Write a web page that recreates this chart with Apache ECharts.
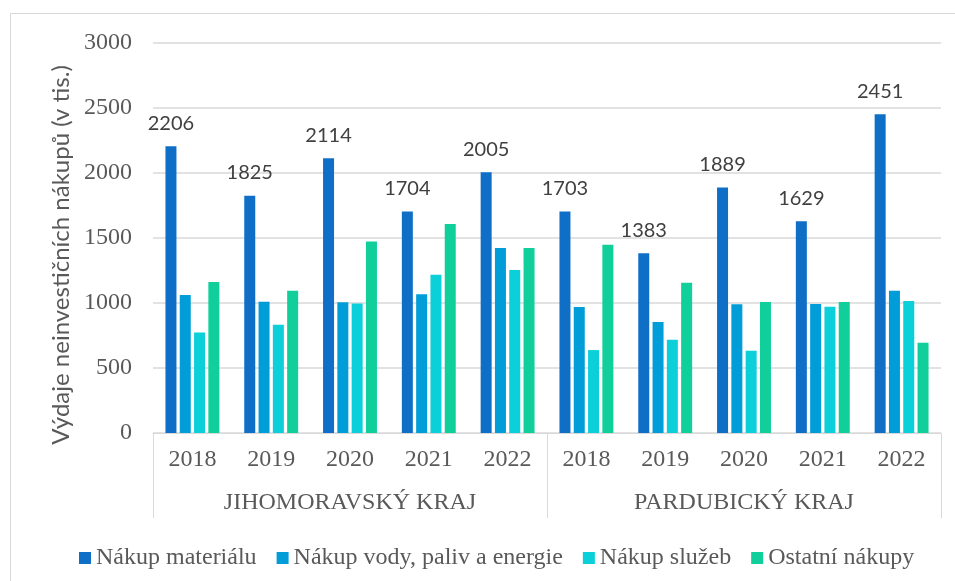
<!DOCTYPE html>
<html>
<head>
<meta charset="utf-8">
<script src="https://cdn.jsdelivr.net/npm/echarts@6/dist/echarts.min.js"></script>
<style>
  html, body { margin: 0; padding: 0; background: #fff; }
  #chart { width: 955px; height: 581px; }
</style>
</head>
<body>
<div id="chart"></div>
<script>
// data
const years = ['2018', '2019', '2020', '2021', '2022', '2018', '2019', '2020', '2021', '2022']
const regions = ['JIHOMORAVSKÝ KRAJ', 'PARDUBICKÝ KRAJ']
const seriesNames = ['Nákup materiálu', 'Nákup vody, paliv a energie', 'Nákup služeb', 'Ostatní nákupy']
const material = [2206, 1825, 2114, 1704, 2005, 1703, 1383, 1889, 1629, 2451]
const water = [1062, 1010, 1005, 1067, 1423, 969, 854, 990, 992, 1095]
const services = [774, 833, 997, 1218, 1254, 638, 718, 633, 972, 1015]
const other = [1162, 1095, 1474, 1608, 1423, 1449, 1156, 1008, 1008, 695]
const colors = ['#0F6FC6', '#009DD9', '#0BD0D9', '#10CF9B']

const serif = 'Liberation Serif'
const sans = 'Lato'
const gridColor = '#d9d9d9'

const myChart = echarts.init(document.getElementById('chart'))

function bar(name, data, i) {
  const s = {
    name: name,
    type: 'bar',
    xAxisIndex: 0,
    barWidth: 11,
    barGap: '30%',
    itemStyle: { color: colors[i] },
    data: data
  }
  if (i === 0) {
    s.label = {
      show: true,
      position: 'top',
      distance: 13,
      fontFamily: sans,
      fontSize: 20,
      color: '#404040'
    }
  }
  return s
}

myChart.setOption({
  animation: false,
  color: colors,
  graphic: [
    {
      type: 'rect',
      shape: { x: 10.5, y: 13.5, width: 1000, height: 700 },
      style: { fill: 'none', stroke: gridColor, lineWidth: 1 },
      silent: true
    }
  ],
  grid: { left: 153, right: 14, top: 43, bottom: 148 },
  legend: {
    data: seriesNames,
    top: 541,
    left: 74,
    itemWidth: 12,
    itemHeight: 12,
    itemGap: 20,
    icon: 'rect',
    textStyle: { fontFamily: serif, fontSize: 24, color: '#595959' }
  },
  xAxis: [
    {
      type: 'category',
      data: years,
      position: 'bottom',
      axisLine: { show: true, lineStyle: { color: gridColor, width: 1 } },
      axisTick: { show: false },
      axisLabel: { fontFamily: serif, fontSize: 24, color: '#595959', margin: 15 }
    },
    {
      type: 'category',
      data: regions,
      position: 'bottom',
      axisLine: { show: false },
      axisTick: { show: true, length: 85, lineStyle: { color: gridColor, width: 1 } },
      axisLabel: { fontFamily: serif, fontSize: 24, color: '#595959', margin: 58 }
    }
  ],
  yAxis: {
    type: 'value',
    min: 0,
    max: 3000,
    interval: 500,
    name: 'Výdaje neinvestičních nákupů (v tis.)',
    nameLocation: 'middle',
    nameRotate: 90,
    nameGap: 79,
    nameTextStyle: { fontFamily: sans, fontSize: 24, color: '#595959', padding: [0, 34, 0, 0] },
    axisLine: { show: false },
    axisTick: { show: false },
    axisLabel: {
      fontFamily: serif,
      fontSize: 24,
      color: '#595959',
      margin: 21,
      formatter: function(v) { return String(v) }
    },
    splitLine: { lineStyle: { color: gridColor, width: 1.5 } }
  },
  series: [
    bar(seriesNames[0], material, 0),
    bar(seriesNames[1], water, 1),
    bar(seriesNames[2], services, 2),
    bar(seriesNames[3], other, 3)
  ]
})
</script>
</body>
</html>
